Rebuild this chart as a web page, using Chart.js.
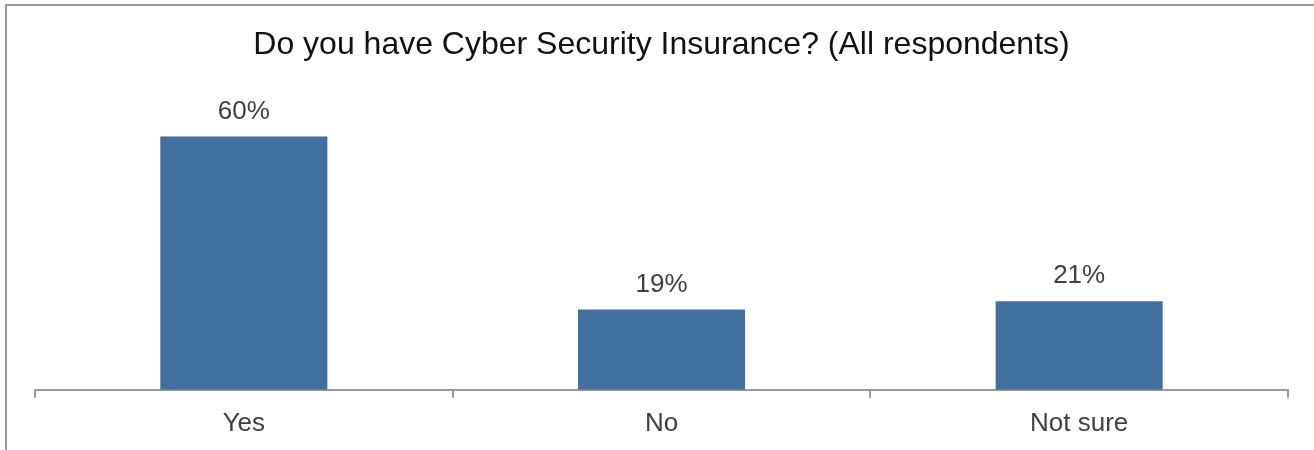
<!DOCTYPE html>
<html>
<head>
<meta charset="utf-8">
<script src="https://cdn.jsdelivr.net/npm/chart.js@4"></script>
<style>
  html, body { margin: 0; padding: 0; background: #fff; }
  #wrap { position: relative; width: 1314px; height: 450px; overflow: hidden; }
  #frame { position: absolute; left: 5px; top: 4px; right: -10px; bottom: -10px;
           border-left: 2px solid #9a9a9a; border-top: 2px solid #9a9a9a; pointer-events: none; }
  canvas { position: absolute; left: 0; top: 0; }
</style>
</head>
<body>
<div id="wrap">
  <canvas id="c" width="1314" height="450"></canvas>
  <div id="frame"></div>
</div>
<script>
const titleText = 'Do you have Cyber Security Insurance? (All respondents)';
const categories = ['Yes', 'No', 'Not sure'];
const values = [0.60, 0.19, 0.21];
const valueLabels = ['60%', '19%', '21%'];

const barLabels = {
  id: 'barLabels',
  afterDatasetsDraw(chart) {
    const ctx = chart.ctx;
    const meta = chart.getDatasetMeta(0);
    ctx.save();
    ctx.font = '26px "Liberation Sans", Arial, sans-serif';
    ctx.fillStyle = '#404040';
    ctx.textAlign = 'center';
    ctx.textBaseline = 'middle';
    meta.data.forEach((bar, i) => {
      ctx.fillText(valueLabels[i], bar.x, bar.y - 25);
    });
    ctx.restore();
  }
};

new Chart(document.getElementById('c'), {
  type: 'bar',
  data: {
    labels: categories,
    datasets: [{
      data: values,
      backgroundColor: '#416FA0',
      borderWidth: 0,
      categoryPercentage: 1,
      barPercentage: 0.4
    }]
  },
  options: {
    responsive: false,
    animation: false,
    layout: { padding: { left: 35, right: 26, top: 0, bottom: 1 } },
    plugins: {
      legend: { display: false },
      tooltip: { enabled: false },
      title: {
        display: true,
        text: titleText,
        color: '#111',
        font: { family: '"Liberation Sans", Arial, sans-serif', size: 32, weight: 'normal' },
        padding: { top: 26, bottom: 30 }
      }
    },
    scales: {
      y: { display: false, min: 0, max: 0.7 },
      x: {
        grid: { display: true, drawOnChartArea: false, drawTicks: true, tickLength: 8, color: '#999', lineWidth: 2, offset: true },
        border: { display: true, color: '#999', width: 2 },
        ticks: { color: '#404040', padding: 10, font: { family: '"Liberation Sans", Arial, sans-serif', size: 26 } }
      }
    }
  },
  plugins: [barLabels]
});
</script>
</body>
</html>
